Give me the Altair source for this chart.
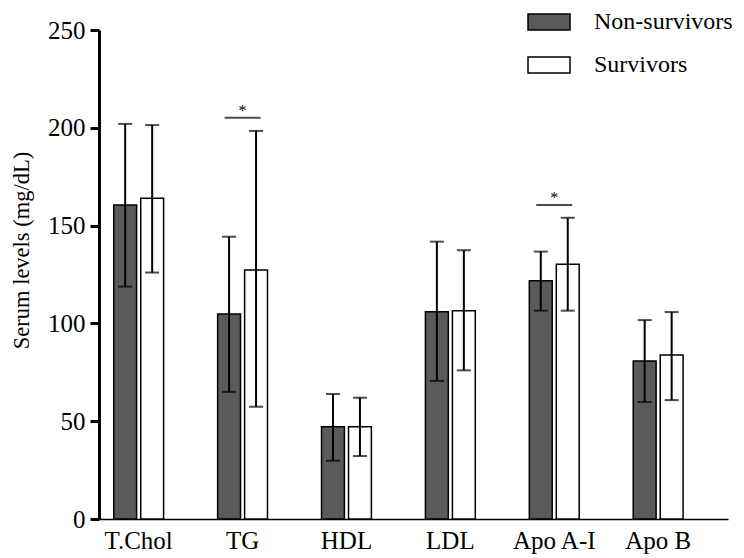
import altair as alt
import pandas as pd

categories = ["T.Chol", "TG", "HDL", "LDL", "Apo A-I", "Apo B"]
groups = ["Non-survivors", "Survivors"]

non_mean = [160.5, 104.8, 47.2, 106.0, 121.8, 80.8]
non_upper = [202.0, 144.3, 63.9, 141.8, 136.7, 101.7]
non_lower = [118.8, 65.0, 29.8, 70.6, 106.5, 59.8]

surv_mean = [164.0, 127.3, 47.2, 106.5, 130.2, 83.8]
surv_upper = [201.4, 198.4, 62.0, 137.4, 154.0, 105.8]
surv_lower = [126.0, 57.4, 32.2, 76.0, 106.5, 60.8]

sig_categories = ["TG", "Apo A-I"]
sig_levels = [205.2, 160.5]
sig_marks = ["*", "*"]

y_ticks = [0, 50, 100, 150, 200, 250]

rows = []
for i, c in enumerate(categories):
    rows.append({"cat": c, "group": groups[0], "mean": non_mean[i], "lo": non_lower[i], "hi": non_upper[i]})
    rows.append({"cat": c, "group": groups[1], "mean": surv_mean[i], "lo": surv_lower[i], "hi": surv_upper[i]})
df = pd.DataFrame(rows)
sig = pd.DataFrame({"cat": sig_categories, "y": sig_levels, "label": sig_marks})

FONT = "Liberation Serif"

x_scale = alt.Scale(domain=categories, paddingInner=0.52, paddingOuter=0.287, align=0.247)
x_enc = alt.X("cat:N", scale=x_scale, sort=categories,
              axis=alt.Axis(title=None, labelAngle=0, ticks=False, domainColor="black",
                            domainWidth=1.5, labelFont=FONT, labelFontSize=25,
                            labelColor="black", labelPadding=9))
xoff = alt.XOffset("group:N", sort=groups, scale=alt.Scale(paddingInner=0.152, paddingOuter=0))
y_scale = alt.Scale(domain=[0, 250], nice=False)
y_enc = alt.Y("mean:Q", scale=y_scale,
              axis=alt.Axis(title="Serum levels (mg/dL)", values=y_ticks, grid=False,
                            domainColor="black", domainWidth=3, tickColor="black",
                            tickWidth=3, tickSize=9, labelFont=FONT, labelFontSize=25,
                            labelColor="black", labelPadding=5, titleFont=FONT,
                            titleFontSize=22.5, titleFontWeight="normal", titleColor="black",
                            titleX=-71, titleY=220, titleAngle=270, titleAlign="center",
                            titleBaseline="alphabetic"))

bars = alt.Chart(df).mark_bar(stroke="black", strokeWidth=1.5).encode(
    x=x_enc,
    xOffset=xoff,
    y=y_enc,
    fill=alt.Fill("group:N", sort=groups,
                  scale=alt.Scale(domain=groups, range=["#5a5a5a", "#ffffff"]),
                  legend=alt.Legend(title=None, orient="none", legendX=428, legendY=-30,
                                    symbolType="M-1,-0.381H1V0.381H-1Z", symbolSize=1764,
                                    symbolStrokeColor="black", symbolStrokeWidth=1.5,
                                    labelFont=FONT, labelFontSize=24, labelColor="black",
                                    labelOffset=23, rowPadding=9)),
)

base = alt.Chart(df)
err_rule = base.mark_rule(color="black", strokeWidth=2).encode(
    x=alt.X("cat:N", scale=x_scale, sort=categories),
    xOffset=xoff,
    y=alt.Y("lo:Q", scale=y_scale),
    y2="hi:Q",
)
cap_hi = base.mark_tick(color="black", thickness=2, size=14).encode(
    x=alt.X("cat:N", scale=x_scale, sort=categories),
    xOffset=xoff,
    y=alt.Y("hi:Q", scale=y_scale),
)
cap_lo = base.mark_tick(color="black", thickness=2, size=14).encode(
    x=alt.X("cat:N", scale=x_scale, sort=categories),
    xOffset=xoff,
    y=alt.Y("lo:Q", scale=y_scale),
)

sig_line = alt.Chart(sig).mark_tick(color="black", thickness=2, size=36).encode(
    x=alt.X("cat:N", scale=x_scale, sort=categories),
    y=alt.Y("y:Q", scale=y_scale),
)
sig_text = alt.Chart(sig).mark_text(font=FONT, fontSize=16, color="black", baseline="alphabetic", dy=-2).encode(
    x=alt.X("cat:N", scale=x_scale, sort=categories),
    y=alt.Y("y:Q", scale=y_scale),
    text="label:N",
)

chart = alt.layer(bars, err_rule, cap_hi, cap_lo, sig_line, sig_text).properties(
    width=629, height=489,
    autosize=alt.AutoSizeParams(type="none"),
    padding={"left": 91, "top": 22, "right": 8, "bottom": 40},
).configure_view(stroke=None)

chart.save("out.html", embed_options={"renderer": "svg", "actions": False})
